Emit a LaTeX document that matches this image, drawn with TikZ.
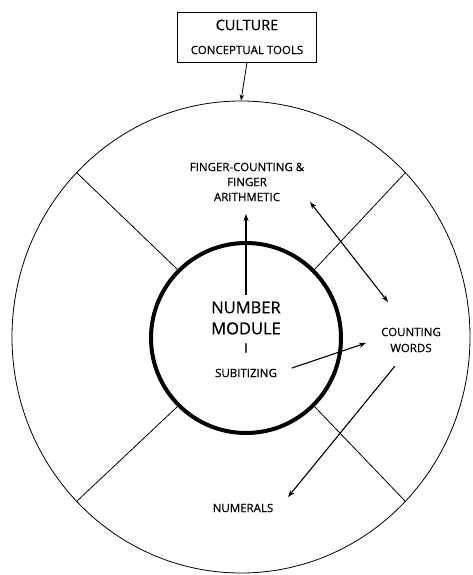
\documentclass[tikz,border=0pt]{standalone}
\usepackage{fontspec}
\setmainfont[FakeBold=0.6]{Open Sans}
\usetikzlibrary{shapes.geometric,arrows.meta}
\begin{document}
\begin{tikzpicture}[x=1pt,y=-1pt,
  lbl/.style={align=center, inner sep=0pt, text=black},
  arr/.style={-{Stealth[length=7pt,width=5pt]}, line width=1.1pt},
  thin line/.style={line width=0.8pt}]
\useasboundingbox (0,0) rectangle (472,575);
% culture box
\node[draw, thin line, minimum width=139pt, minimum height=50pt, inner sep=0pt] (culture) at (247,37) {};
\node[lbl, font=\fontsize{14.5}{16}\selectfont] (cult) at (247,25) {CULTURE};
\node[lbl, font=\fontsize{11.5}{13}\selectfont] (tools) at (247,50) {CONCEPTUAL TOOLS};
% circles
\node[ellipse, draw, thin line, minimum width=458pt, minimum height=472pt, inner sep=0pt] (outer) at (241,337) {};
\node[circle, draw, line width=4pt, minimum size=190pt, inner sep=0pt] (inner) at (246,338) {};
% radial lines
\foreach \a in {45,135,225,315}{
  \draw[thin line] (inner.\a) -- (outer.\a);
}
% texts
\node[lbl, font=\fontsize{11.5}{15}\selectfont] (finger) at (247,182) {FINGER-COUNTING \&\\FINGER\\ARITHMETIC};
\node[lbl, font=\fontsize{16.5}{21}\selectfont] (num) at (246,318) {NUMBER\\MODULE};
\node[lbl, font=\fontsize{13}{15}\selectfont] (bar) at (246,348) {I};
\node[lbl, font=\fontsize{11.5}{13}\selectfont] (subit) at (246,373) {SUBITIZING};
\node[lbl, font=\fontsize{11.5}{16}\selectfont] (words) at (411,340) {COUNTING\\WORDS};
\node[lbl, font=\fontsize{11.5}{13}\selectfont] (numerals) at (243,508) {NUMERALS};
% connector end points
\coordinate (upS) at (246,295);
\coordinate (upE) at (246,214);
\coordinate (dA) at (310,202);
\coordinate (dB) at (388,302);
\coordinate (sS) at (292,368);
\coordinate (sE) at (366,343);
\coordinate (nS) at (395,366);
\coordinate (nE) at (288,497);
% connectors
\draw[-{Stealth[length=6pt,width=4.5pt]}, thin line] (culture.south) -- (outer.north);
\draw[arr] (upS) -- (upE);
\draw[arr, {Stealth[length=7pt,width=5pt]}-{Stealth[length=7pt,width=5pt]}] (dA) -- (dB);
\draw[arr] (sS) -- (sE);
\draw[arr] (nS) -- (nE);
\end{tikzpicture}
\end{document}
